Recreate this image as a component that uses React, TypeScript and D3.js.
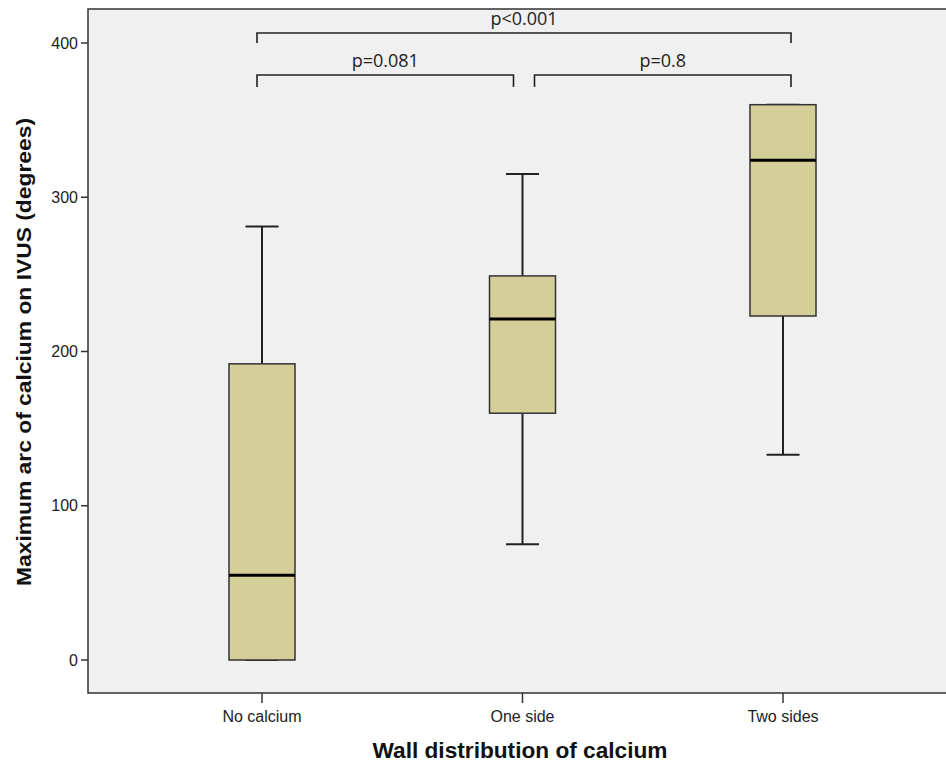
import React from "react";
import * as d3 from "d3";

const categories = ["No calcium", "One side", "Two sides"];
const mins = [0, 75, 133];
const q1s = [0, 160, 223];
const medians = [55, 221, 324];
const q3s = [192, 249, 360];
const maxs = [281, 315, 360];
const yTicks = [0, 100, 200, 300, 400];

const comparisons = [
  { from: 0, to: 1, label: "p=0.081", level: 0 },
  { from: 1, to: 2, label: "p=0.8", level: 0 },
  { from: 0, to: 2, label: "p<0.001", level: 1 },
];

const W = 946;
const H = 764;
const plotLeft = 88;
const plotTop = 9;
const plotBottom = 693;
const plotRight = 960;

export default function App() {
  const x = d3.scalePoint<string>().domain(categories).range([262, 783]);
  const y = d3.scaleLinear().domain([0, 400]).range([660, 43]);
  const boxW = 66;
  const capW = 33;
  const sans = "'Liberation Sans', Arial, sans-serif";
  const calibri = "'Open Sans', 'Noto Sans', sans-serif";

  return (
    <svg
      width={W}
      height={H}
      style={{ position: "absolute", left: 0, top: 0, background: "#fff" }}
    >
      <rect
        x={plotLeft}
        y={plotTop}
        width={plotRight - plotLeft}
        height={plotBottom - plotTop}
        fill="#f0f0f0"
        stroke="#333"
        strokeWidth={1.5}
      />

      {/* y axis ticks */}
      {yTicks.map((t) => (
        <g key={t}>
          <line x1={plotLeft - 7} x2={plotLeft} y1={y(t)} y2={y(t)} stroke="#333" strokeWidth={1.5} />
          <text
            x={plotLeft - 10}
            y={y(t)}
            dy="0.35em"
            textAnchor="end"
            fontFamily={sans}
            fontSize={16}
            fill="#222"
          >
            {t}
          </text>
        </g>
      ))}

      {/* x axis ticks */}
      {categories.map((c) => (
        <g key={c}>
          <line x1={x(c)} x2={x(c)} y1={plotBottom} y2={plotBottom + 10} stroke="#333" strokeWidth={1.5} />
          <text
            x={x(c)}
            y={716}
            dy="0.35em"
            textAnchor="middle"
            fontFamily={sans}
            fontSize={16}
            fill="#222"
          >
            {c}
          </text>
        </g>
      ))}

      {/* boxes */}
      {categories.map((c, i) => {
        const cx = x(c) as number;
        return (
          <g key={c}>
            <line x1={cx} x2={cx} y1={y(maxs[i])} y2={y(q3s[i])} stroke="#222" strokeWidth={2} />
            <line x1={cx} x2={cx} y1={y(q1s[i])} y2={y(mins[i])} stroke="#222" strokeWidth={2} />
            <line x1={cx - capW / 2} x2={cx + capW / 2} y1={y(maxs[i])} y2={y(maxs[i])} stroke="#222" strokeWidth={2} />
            <line x1={cx - capW / 2} x2={cx + capW / 2} y1={y(mins[i])} y2={y(mins[i])} stroke="#222" strokeWidth={2} />
            <rect
              x={cx - boxW / 2}
              y={y(q3s[i])}
              width={boxW}
              height={y(q1s[i]) - y(q3s[i])}
              fill="#d4cf98"
              stroke="#333"
              strokeWidth={1.5}
            />
            <line
              x1={cx - boxW / 2}
              x2={cx + boxW / 2}
              y1={y(medians[i])}
              y2={y(medians[i])}
              stroke="#000"
              strokeWidth={3}
            />
          </g>
        );
      })}

      {/* significance brackets */}
      {comparisons.map((cmp) => {
        const x1 = (x(categories[cmp.from]) as number) - 5 + (cmp.from === 1 && cmp.level === 0 ? 17 : 0);
        const x2 = (x(categories[cmp.to]) as number) + 8 - (cmp.to === 1 && cmp.level === 0 ? 17 : 0);
        const by = cmp.level === 1 ? 33 : 75;
        const drop = cmp.level === 1 ? 10 : 12;
        return (
          <g key={cmp.label}>
            <path
              d={`M${x1},${by + drop}V${by}H${x2}V${by + drop}`}
              fill="none"
              stroke="#222"
              strokeWidth={1.6}
            />
            <text
              x={(x1 + x2) / 2}
              y={by - 8}
              textAnchor="middle"
              fontFamily={calibri}
              fontSize={18}
              fill="#222"
            >
              {cmp.label}
            </text>
          </g>
        );
      })}

      {/* axis titles */}
      <text
        transform={`translate(24,${(plotTop + plotBottom) / 2 + 1}) rotate(-90)`}
        textAnchor="middle"
        dy="0.35em"
        fontFamily={sans}
        fontWeight="bold"
        fontSize={21}
        textLength={468}
        lengthAdjust="spacingAndGlyphs"
        fill="#111"
      >
        Maximum arc of calcium on IVUS (degrees)
      </text>
      <text
        x={520}
        y={750}
        dy="0.35em"
        textAnchor="middle"
        fontFamily={sans}
        fontWeight="bold"
        fontSize={22}
        textLength={295}
        lengthAdjust="spacingAndGlyphs"
        fill="#111"
      >
        Wall distribution of calcium
      </text>
    </svg>
  );
}
